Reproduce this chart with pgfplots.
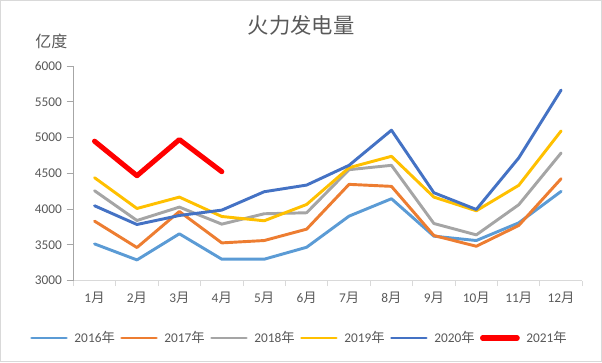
\documentclass[border=0pt]{standalone}
\usepackage{pgfplots}
\pgfplotsset{compat=1.18}
\usepackage{fontspec}
\setmainfont{Carlito}
\newfontfamily\cjk{Noto Sans CJK SC}
\newcommand\yue{{\cjk 月}}
\newcommand\nian{{\cjk 年}}
\definecolor{c16}{HTML}{5B9BD5}
\definecolor{c17}{HTML}{ED7D31}
\definecolor{c18}{HTML}{A5A5A5}
\definecolor{c19}{HTML}{FFC000}
\definecolor{c20}{HTML}{4472C4}
\definecolor{c21}{HTML}{FF0000}
\definecolor{txt}{HTML}{595959}
\definecolor{axl}{HTML}{D9D9D9}
\definecolor{axy}{HTML}{A6A6A6}
\begin{document}
\begin{tikzpicture}
\draw[axl,line width=0.75pt] (0.375pt,0.375pt) rectangle (451.125pt,271.125pt);
\node[txt,font=\cjk\fontsize{16}{18}\selectfont] at (225.75pt,252.75pt) {火力发电量};
\node[txt,font=\cjk\fontsize{12}{14}\selectfont] at (38.6pt,240.75pt) {亿度};
\begin{axis}[
  at={(55pt,61pt)}, anchor=south west,
  scale only axis, width=381.75pt, height=161pt,
  xmin=0.5, xmax=12.5, ymin=3000, ymax=6000,
  ytick={3000,3500,...,6000},
  xtick={1,...,12},
  xticklabels={1\yue,2\yue,3\yue,4\yue,5\yue,6\yue,7\yue,8\yue,9\yue,10\yue,11\yue,12\yue},
  minor xtick={0.5,1.5,...,12.5},
  major x tick style={draw=none},
  minor x tick style={axl,line width=0.75pt},
  y tick style={axy,line width=0.75pt},
  tick align=outside,
  major tick length=5pt, minor tick length=4pt,
  axis x line*=bottom, axis y line*=left,
  x axis line style={axl,line width=0.75pt,-},
  y axis line style={axy,line width=0.75pt,-},
  ticklabel style={txt,font=\fontsize{10}{12}\selectfont},
  /pgf/number format/assume math mode=true,
  /pgf/number format/1000 sep={},
  legend columns=6,
  legend style={at={(0.445,-0.267)}, anchor=center, draw=none, fill=none,
    font=\fontsize{10}{12}\selectfont, text=txt, column sep=2pt,
    /tikz/every odd column/.append style={column sep=3pt}},
  legend image code/.code={\draw[#1] (0pt,0pt) -- (26pt,0pt);},
  every axis plot/.append style={line width=2.2pt, line join=round, line cap=round},
  clip=false,
]
\addplot[c16] coordinates {(1,3514)(2,3290)(3,3655)(4,3300)(5,3300)(6,3467)(7,3902)(8,4145)(9,3622)(10,3561)(11,3808)(12,4248)};
\addlegendentry{2016\nian}
\addplot[c17] coordinates {(1,3832)(2,3463)(3,3967)(4,3528)(5,3561)(6,3720)(7,4346)(8,4318)(9,3631)(10,3481)(11,3771)(12,4425)};
\addlegendentry{2017\nian}
\addplot[c18] coordinates {(1,4257)(2,3841)(3,4028)(4,3790)(5,3935)(6,3949)(7,4551)(8,4612)(9,3799)(10,3640)(11,4061)(12,4785)};
\addlegendentry{2018\nian}
\addplot[c19] coordinates {(1,4439)(2,4009)(3,4168)(4,3897)(5,3837)(6,4065)(7,4579)(8,4738)(9,4168)(10,3977)(11,4332)(12,5093)};
\addlegendentry{2019\nian}
\addplot[c20] coordinates {(1,4047)(2,3785)(3,3911)(4,3986)(5,4243)(6,4336)(7,4612)(8,5103)(9,4229)(10,3995)(11,4715)(12,5664)};
\addlegendentry{2020\nian}
\addplot[c21, line width=3.8pt] coordinates {(1,4949)(2,4467)(3,4972)(4,4523)};
\addlegendentry{2021\nian}
\end{axis}
\end{tikzpicture}
\end{document}
